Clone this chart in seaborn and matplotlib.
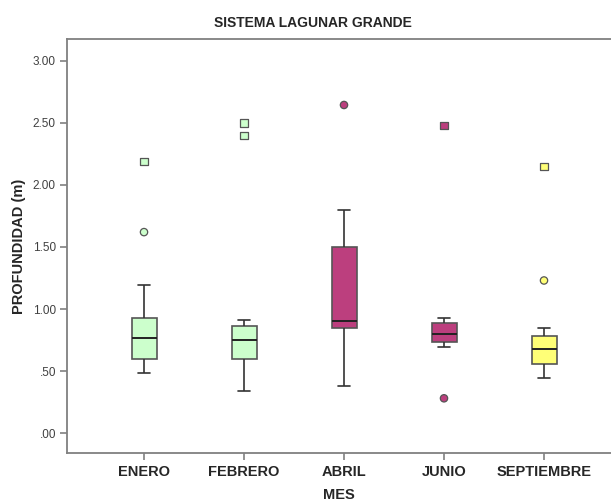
import numpy as np
import pandas as pd
import matplotlib
matplotlib.use("Agg")
import matplotlib.pyplot as plt
from matplotlib.ticker import FuncFormatter
import seaborn as sns

# --- data (depth in m per sampling month) ---
meses = ["ENERO", "FEBRERO", "ABRIL", "JUNIO", "SEPTIEMBRE"]
enero = [0.48, 0.52, 0.56, 0.60, 0.66, 0.72, 0.77, 0.82, 0.88, 0.93, 1.19, 1.62, 2.19]
febrero = [0.34, 0.45, 0.55, 0.60, 0.66, 0.71, 0.75, 0.80, 0.84, 0.86, 0.91, 2.40, 2.50]
abril = [0.38, 0.55, 0.75, 0.85, 0.87, 0.89, 0.905, 1.05, 1.30, 1.50, 1.65, 1.80, 2.645]
junio = [0.28, 0.69, 0.71, 0.73, 0.76, 0.78, 0.80, 0.83, 0.86, 0.885, 0.91, 0.93, 2.48]
septiembre = [0.44, 0.48, 0.52, 0.555, 0.60, 0.64, 0.68, 0.72, 0.75, 0.78, 0.85, 1.23, 2.15]
colores = ["#CCFFCC", "#CCFFCC", "#BC3F7E", "#BC3F7E", "#FFFF77"]

valores = [enero, febrero, abril, junio, septiembre]
df = pd.DataFrame({
    "MES": np.repeat(meses, [len(v) for v in valores]),
    "Profundidad": np.concatenate(valores),
})
paleta = dict(zip(meses, colores))

# outliers as SPSS shows them: circles beyond 1.5 IQR, squares beyond 3 IQR
filas = []
for mes, v in zip(meses, valores):
    q1, q3 = np.percentile(v, [25, 75])
    iqr = q3 - q1
    for x in v:
        if x > q3 + 3 * iqr or x < q1 - 3 * iqr:
            filas.append((mes, x, "extremo"))
        elif x > q3 + 1.5 * iqr or x < q1 - 1.5 * iqr:
            filas.append((mes, x, "atipico"))
atipicos = pd.DataFrame(filas, columns=["MES", "Profundidad", "tipo"])

sns.set_style("white")
plt.rcParams["font.family"] = ["Liberation Sans", "DejaVu Sans"]

fig = plt.figure(figsize=(6.11, 5.01), dpi=100)
ax = fig.add_axes([67 / 611, 48 / 501, 1 - 67 / 611, (453 - 39) / 501])

sns.boxplot(data=df, x="MES", y="Profundidad", hue="MES", palette=paleta,
            order=meses, hue_order=meses, legend=False, ax=ax, saturation=1,
            width=0.25, whis=1.5, showfliers=False,
            linecolor="#333333", linewidth=1.2,
            boxprops=dict(edgecolor="#555555"),
            medianprops=dict(color="#222222", linewidth=1.4))

sns.scatterplot(data=atipicos, x="MES", y="Profundidad", hue="MES", palette=paleta,
                style="tipo", markers={"atipico": "o", "extremo": "s"},
                s=28, edgecolor="#555555", linewidth=0.9, legend=False, ax=ax, zorder=5)

ax.set_xlim(-0.77, 4.67)
ax.set_ylim(-0.161, 3.177)
ax.set_yticks([0, 0.5, 1.0, 1.5, 2.0, 2.5, 3.0])
ax.yaxis.set_major_formatter(FuncFormatter(lambda v, p: f"{v:.2f}".lstrip("0") if v < 1 else f"{v:.2f}"))

for lado in ["left", "bottom", "top"]:
    ax.spines[lado].set_color("#808080")
    ax.spines[lado].set_linewidth(1.3)
ax.spines["right"].set_visible(False)

ax.tick_params(axis="both", length=5, width=1.2, color="#808080", direction="out",
               left=True, bottom=True)
ax.tick_params(axis="y", labelsize=8.5, labelcolor="#404040", pad=3)
ax.tick_params(axis="x", labelsize=10.5, pad=4)
for t in ax.get_xticklabels():
    t.set_fontweight("bold")

ax.set_xlabel("MES", fontsize=10.5, fontweight="bold", labelpad=6)
ax.set_ylabel("PROFUNDIDAD (m)", fontsize=10.5, fontweight="bold", labelpad=5)
fig.text(313 / 611, 1 - 23 / 501, "SISTEMA LAGUNAR GRANDE", ha="center", va="center",
         fontsize=10, fontweight="bold")

fig.savefig("out.png", dpi=100)
